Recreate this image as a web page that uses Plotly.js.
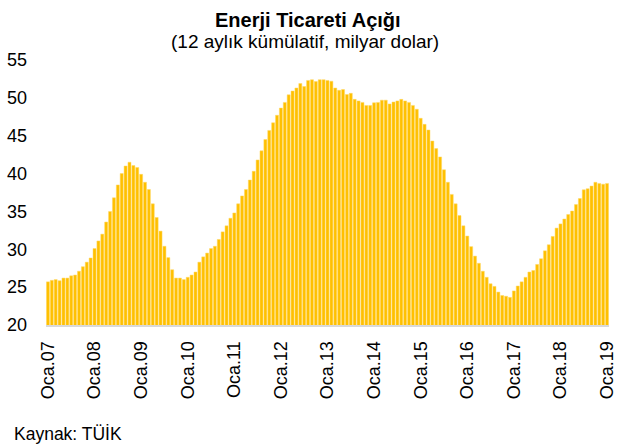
<!DOCTYPE html>
<html>
<head>
<meta charset="utf-8">
<script src="https://cdn.plot.ly/plotly-3.0.1.min.js"></script>
<style>html,body{margin:0;padding:0;background:#fff;}#chart{width:617px;height:446px;}</style>
</head>
<body>
<div id="chart"></div>
<script>
// 12-month cumulative energy trade deficit, billion USD, monthly Jan 2007 - Jan 2019
const values = [
  25.7, 25.9, 26.0, 25.85, 26.2, 26.2, 26.5, 26.6, 27.1, 27.7, 28.3, 28.85,
  30.1, 31.1, 32.0, 33.6, 35.0, 36.8, 38.5, 40.0, 41.0, 41.5, 41.05, 40.8,
  39.9, 38.85, 37.9, 36.0, 34.2, 32.4, 30.4, 28.9, 27.3, 26.2, 26.2, 26.0,
  26.3, 26.6, 27.0, 28.3, 29.0, 29.5, 30.1, 30.4, 31.3, 32.3, 33.1, 34.1,
  34.8, 36.0, 37.05, 37.9, 39.15, 40.3, 41.8, 43.0, 44.5, 45.7, 46.7, 47.7,
  48.65, 49.4, 50.4, 50.9, 51.3, 51.9, 51.5, 52.3, 52.4, 52.15, 52.4, 52.4,
  52.3, 52.2, 51.3, 51.0, 51.1, 50.45, 50.6, 49.8, 49.6, 49.4, 49.0, 49.0,
  49.35, 49.4, 49.7, 49.7, 49.2, 49.45, 49.6, 49.8, 49.6, 49.4, 49.0, 48.5,
  47.3, 46.5, 45.75, 44.3, 43.3, 42.2, 40.5, 38.85, 37.25, 36.0, 34.45, 33.1,
  31.75, 30.35, 29.1, 28.15, 27.1, 26.3, 25.45, 25.1, 24.35, 23.9, 23.8, 23.65,
  24.5, 25.15, 25.7, 26.3, 27.0, 27.2, 28.0, 28.75, 29.8, 30.6, 31.7, 32.8,
  33.35, 34.0, 34.6, 35.05, 35.9, 36.7, 37.85, 38.0, 38.35, 38.85, 38.7, 38.6,
  38.7
];
const tickLabels = ['Oca.07','Oca.08','Oca.09','Oca.10','Oca.11','Oca.12','Oca.13',
                    'Oca.14','Oca.15','Oca.16','Oca.17','Oca.18','Oca.19'];
const monthsPerTick = 12;
const titleText = 'Enerji Ticareti Açığı';
const subtitleText = '(12 aylık kümülatif, milyar dolar)';
const sourceText = 'Kaynak: TÜİK';

const xIdx = values.map((_, i) => i);
const tickVals = tickLabels.map((_, i) => i * monthsPerTick);
const FONT = 'Liberation Sans, Arial, sans-serif';

const trace = {
  type: 'bar',
  x: xIdx,
  y: values,
  marker: {color: '#FFC000', line: {color: '#FFD966', width: 0.5}},
  hoverinfo: 'y'
};

const layout = {
  width: 617, height: 446,
  margin: {l: 46, r: 8, t: 60, b: 121, pad: 0},
  paper_bgcolor: '#ffffff', plot_bgcolor: '#ffffff',
  font: {family: FONT, size: 18, color: '#000000'},
  showlegend: false,
  bargap: 0.22,
  xaxis: {
    range: [-0.5, values.length - 0.5],
    tickmode: 'array', tickvals: tickVals, ticktext: tickLabels,
    tickangle: -90, ticks: '', showgrid: false, zeroline: false,
    showline: true, linecolor: '#D9D9D9', linewidth: 2,
    tickfont: {family: FONT, size: 18, color: '#000'},
    ticklabelstandoff: 7,
    ticklabeloverflow: 'allow'
  },
  yaxis: {
    range: [20, 55], tickmode: 'linear', tick0: 20, dtick: 5,
    ticks: '', showgrid: false, zeroline: false, showline: false,
    tickfont: {family: FONT, size: 18, color: '#000'},
    ticklabelstandoff: 18
  },
  annotations: [
    {text: '<b>' + titleText + '</b>', xref: 'paper', yref: 'paper',
     x: 0.465, y: 1.152, xanchor: 'center', yanchor: 'middle', showarrow: false,
     font: {family: FONT, size: 20, color: '#000'}},
    {text: subtitleText, xref: 'paper', yref: 'paper',
     x: 0.46, y: 1.070, xanchor: 'center', yanchor: 'middle', showarrow: false,
     font: {family: FONT, size: 19, color: '#000'}},
    {text: sourceText, xref: 'paper', yref: 'paper',
     x: -0.06, y: -0.411, xanchor: 'left', yanchor: 'middle', showarrow: false,
     font: {family: FONT, size: 17.5, color: '#000'}}
  ]
};

Plotly.newPlot('chart', [trace], layout, {displayModeBar: false, staticPlot: true});
</script>
</body>
</html>
